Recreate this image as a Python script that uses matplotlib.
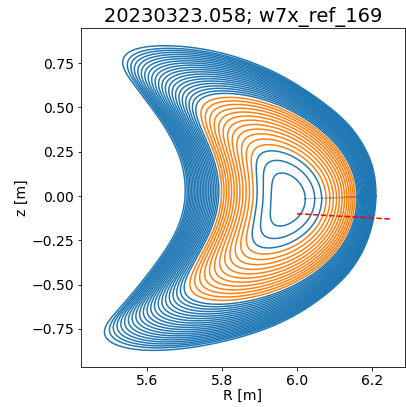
import numpy as np
import matplotlib
matplotlib.use("Agg")
import matplotlib.pyplot as plt

# outermost flux surface (counter-clockwise from the outboard midplane)
bnd_R = [6.212, 6.199, 6.13, 6.0, 5.948, 5.789, 5.656, 5.55, 5.513, 5.542, 5.612, 5.665,
         5.696, 5.705, 5.70, 5.674, 5.612, 5.533, 5.471, 5.462, 5.524, 5.612, 5.775, 5.952,
         6.085, 6.16, 6.20]
bnd_z = [0.00, 0.20, 0.43, 0.63, 0.70, 0.823, 0.857, 0.851, 0.795, 0.692, 0.504, 0.335,
         0.184, 0.034, -0.079, -0.229, -0.417, -0.624, -0.756, -0.812, -0.868, -0.884, -0.84,
         -0.727, -0.547, -0.38, -0.18]
axis_R, axis_z = 5.972, -0.02

# surface labels (normalised flux s)
s_inner = [0.035, 0.075, 0.115]
s_mid = [0.145, 0.175, 0.205, 0.235, 0.265, 0.295, 0.325, 0.355, 0.385, 0.415, 0.445, 0.475]
s_outer = [0.51, 0.533, 0.556, 0.579, 0.602, 0.625, 0.648, 0.671, 0.694, 0.717, 0.74,
           0.763, 0.786, 0.809, 0.832, 0.855, 0.878, 0.901, 0.924, 0.947, 0.97, 1.0]

# line of sight
los_R = [6.0, 6.25]
los_z = [-0.10, -0.13]

K = 18      # poloidal modes kept
N = 512


def closed_spline(x, y, n_sub=20):
    # periodic Catmull-Rom through the read points
    P = np.c_[x, y]
    n = len(P)
    t = np.linspace(0, 1, n_sub, endpoint=False)[:, None]
    out = []
    for i in range(n):
        p0, p1, p2, p3 = P[i - 1], P[i], P[(i + 1) % n], P[(i + 2) % n]
        out.append(0.5 * (2 * p1 + (p2 - p0) * t + (2 * p0 - 5 * p1 + 4 * p2 - p3) * t**2
                          + (3 * p1 - p0 - 3 * p2 + p3) * t**3))
    out = np.vstack(out)
    return out[:, 0], out[:, 1]


def fourier_coeffs(x, y):
    # resample uniformly in arc length, FFT, damp the high modes a bit
    xc, yc = np.r_[x, x[0]], np.r_[y, y[0]]
    L = np.r_[0, np.cumsum(np.hypot(np.diff(xc), np.diff(yc)))]
    u = np.linspace(0, L[-1], N, endpoint=False)
    xs, ys = np.interp(u, L, xc), np.interp(u, L, yc)
    damp = np.exp(-(np.arange(N // 2 + 1) / 12.0) ** 2)
    return np.fft.rfft(xs) / N * damp, np.fft.rfft(ys) / N * damp


cR, cz = fourier_coeffs(*closed_spline(bnd_R, bnd_z))
theta = np.linspace(0, 2 * np.pi, 800)


def surface(s):
    rho = np.sqrt(s)
    R = axis_R * (1 - rho**2) + cR[0].real * rho**2
    z = axis_z * (1 - rho**2) + cz[0].real * rho**2
    for m in range(1, K + 1):
        e = np.exp(1j * m * theta)
        wz = rho ** (1 + 0.6 * (m - 1))
        wR = rho ** 1.12 if m == 1 else wz
        R = R + 2 * wR * (cR[m] * e).real
        z = z + 2 * wz * (cz[m] * e).real
    return R, z


fig = plt.figure(figsize=(406 / 72, 407 / 72), dpi=72)
ax = fig.add_axes([0.1995, 0.0983, 0.7975, 0.8327])

seam_R, seam_z = [], []
for group, col in [(s_outer, 'C0'), (s_mid, 'C1'), (s_inner, 'C0')]:
    for s in group:
        R, z = surface(s)
        ax.plot(R, z, color=col, lw=1.5)
        seam_R.append(R[0])
        seam_z.append(z[0])
ax.plot(seam_R, seam_z, color='C0', lw=1.0, alpha=0.35)

ax.plot(los_R, los_z, 'r--', lw=1.5)

ax.set_xlim(5.425, 6.287)
ax.set_ylim(-0.965, 0.948)
ax.set_xticks([5.6, 5.8, 6.0, 6.2])
ax.set_yticks([-0.75, -0.5, -0.25, 0, 0.25, 0.5, 0.75])
ax.tick_params(labelsize=14)
ax.set_xlabel('R [m]', fontsize=14, labelpad=1)
ax.set_ylabel('z [m]', fontsize=14, labelpad=2)
ax.set_title('20230323.058; w7x_ref_169', fontsize=19.5)

fig.savefig('out.png', dpi=72)
